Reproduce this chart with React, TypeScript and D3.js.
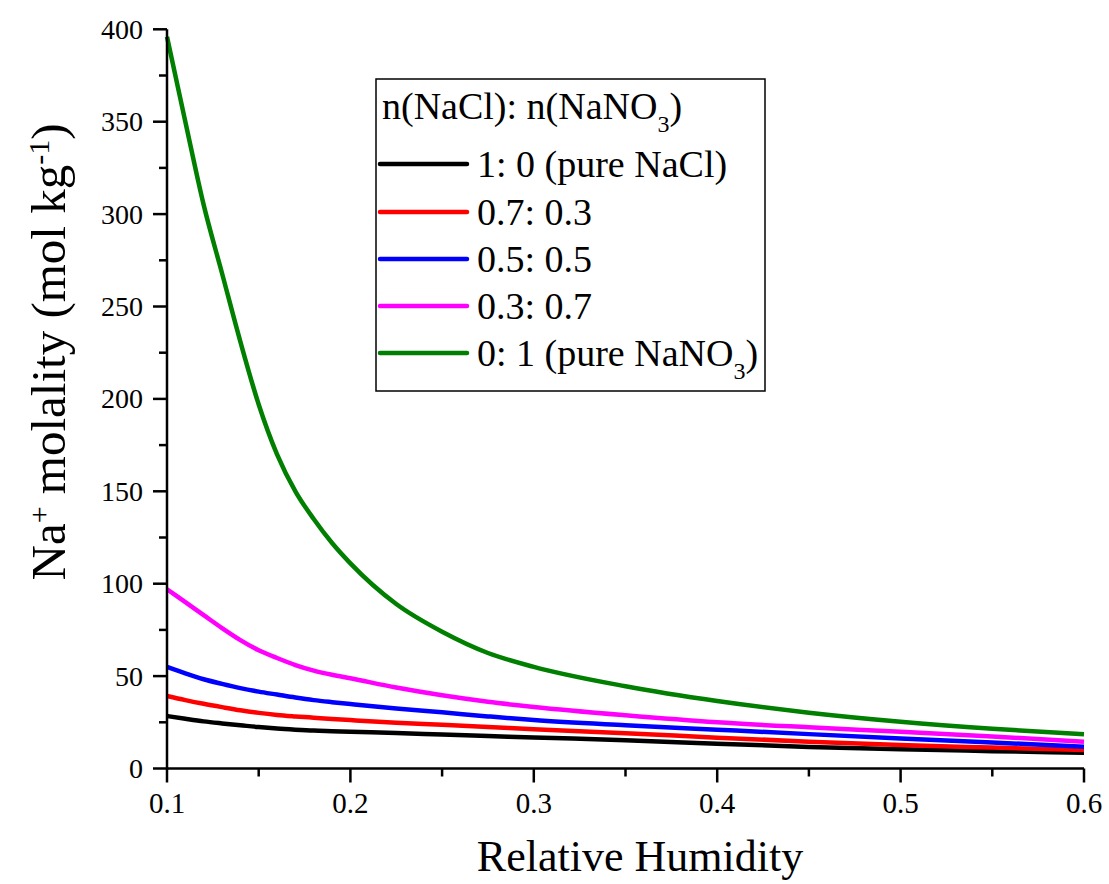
import React from "react";
import * as d3 from "d3";

const rh = [0.10, 0.11, 0.12, 0.13, 0.14, 0.15, 0.16, 0.17, 0.18, 0.19, 0.20, 0.225, 0.25, 0.275, 0.30, 0.35, 0.40, 0.45, 0.50, 0.55, 0.60];
const pureNaCl = [28.4, 26.9, 25.5, 24.4, 23.4, 22.4, 21.6, 21.0, 20.5, 20.2, 19.9, 19.2, 18.4, 17.6, 16.8, 15.3, 13.4, 11.7, 10.4, 9.4, 8.5];
const ratio73 = [39.2, 37.0, 35.0, 33.2, 31.5, 30.1, 29.0, 28.2, 27.5, 26.8, 26.2, 24.8, 23.7, 22.5, 21.2, 19.1, 16.7, 14.5, 12.7, 11.3, 10.0];
const ratio55 = [55.0, 51.5, 48.3, 45.8, 43.5, 41.6, 40.0, 38.4, 37.0, 35.9, 34.9, 32.5, 30.4, 28.2, 26.2, 23.4, 21.0, 18.6, 16.3, 14.1, 11.8];
const ratio37 = [97.0, 90.0, 83.0, 76.0, 69.5, 64.0, 59.8, 56.0, 53.0, 50.7, 48.8, 43.8, 39.6, 36.1, 33.3, 28.8, 25.0, 22.3, 19.9, 17.3, 14.5];
const pureNaNO3 = [396, 350, 305, 268, 231, 197, 170, 150, 135, 122, 111, 89, 74, 62.5, 55, 44.5, 36.5, 30.2, 25.3, 21.5, 18.5];

const seriesLabels = ["1: 0 (pure NaCl)", "0.7: 0.3", "0.5: 0.5", "0.3: 0.7", "0: 1 (pure NaNO"];
const seriesColors = ["#000000", "#ff0000", "#0000ff", "#ff00ff", "#007f00"];
const xTicks = [0.1, 0.2, 0.3, 0.4, 0.5, 0.6];
const xMinor = [0.15, 0.25, 0.35, 0.45, 0.55];
const yTicks = [0, 50, 100, 150, 200, 250, 300, 350, 400];
const yMinor = [25, 75, 125, 175, 225, 275, 325, 375];

const FONT = "'Liberation Serif', 'Times New Roman', serif";

export default function App() {
  const x = d3.scaleLinear().domain([0.1, 0.6]).range([167, 1084]);
  const y = d3.scaleLinear().domain([0, 400]).range([768.5, 29.3]);
  const allSeries = [pureNaCl, ratio73, ratio55, ratio37, pureNaNO3];
  const line = d3
    .line<[number, number]>()
    .x((d) => x(d[0]))
    .y((d) => y(d[1]))
    .curve(d3.curveMonotoneX);

  const legendLineY = [164, 212, 259, 306, 353];

  return (
    <svg width={1109} height={884} style={{ position: "absolute", left: 0, top: 0, background: "#fff" }} fontFamily={FONT}>
      <rect x={0} y={0} width={1109} height={884} fill="#fff" />
      {allSeries.map((vals, i) => (
        <path
          key={i}
          d={line(rh.map((r, j) => [r, vals[j]]) as [number, number][]) || ""}
          fill="none"
          stroke={seriesColors[i]}
          strokeWidth={4.5}
          strokeLinejoin="round"
        />
      ))}
      <line x1={x(0.1)} x2={x(0.6)} y1={y(0)} y2={y(0)} stroke="#000" strokeWidth={2.5} />
      <line x1={x(0.1)} x2={x(0.1)} y1={y(0) + 1.2} y2={y(400)} stroke="#000" strokeWidth={2.5} />
      {xTicks.map((t) => (
        <g key={"xt" + t}>
          <line x1={x(t)} x2={x(t)} y1={y(0)} y2={y(0) + 14} stroke="#000" strokeWidth={2.5} />
          <text x={x(t)} y={813} textAnchor="middle" fontSize={29}>
            {t.toFixed(1)}
          </text>
        </g>
      ))}
      {xMinor.map((t) => (
        <line key={"xm" + t} x1={x(t)} x2={x(t)} y1={y(0)} y2={y(0) + 8} stroke="#000" strokeWidth={2.5} />
      ))}
      {yTicks.map((t) => (
        <g key={"yt" + t}>
          <line x1={x(0.1) - 14} x2={x(0.1)} y1={y(t)} y2={y(t)} stroke="#000" strokeWidth={2.5} />
          <text x={x(0.1) - 24} y={y(t) + 9.5} textAnchor="end" fontSize={28}>
            {t}
          </text>
        </g>
      ))}
      {yMinor.map((t) => (
        <line key={"ym" + t} x1={x(0.1) - 8} x2={x(0.1)} y1={y(t)} y2={y(t)} stroke="#000" strokeWidth={2.5} />
      ))}
      <text x={640} y={871} textAnchor="middle" fontSize={44}>
        Relative Humidity
      </text>
      <text transform="translate(65,352) rotate(-90)" textAnchor="middle" fontSize={49}>
        Na<tspan baselineShift="super" fontSize={30}>+</tspan>
        <tspan> molality (mol kg</tspan>
        <tspan baselineShift="super" fontSize={30}>-1</tspan>
        <tspan>)</tspan>
      </text>
      <rect x={376} y={79} width={389} height={312} fill="#fff" stroke="#000" strokeWidth={1.5} />
      <text x={382} y={119} fontSize={38}>
        n(NaCl): n(NaNO<tspan baselineShift="sub" fontSize={24}>3</tspan>
        <tspan baselineShift="baseline">)</tspan>
      </text>
      {seriesLabels.map((lab, i) => (
        <g key={"lg" + i}>
          <line x1={380} x2={467} y1={legendLineY[i]} y2={legendLineY[i]} stroke={seriesColors[i]} strokeWidth={4.5} strokeLinecap="round" />
          <text x={477} y={legendLineY[i] + 13} fontSize={38}>
            {lab}
            {i === 4 ? (
              <>
                <tspan baselineShift="sub" fontSize={24}>3</tspan>
                <tspan>)</tspan>
              </>
            ) : null}
          </text>
        </g>
      ))}
    </svg>
  );
}
